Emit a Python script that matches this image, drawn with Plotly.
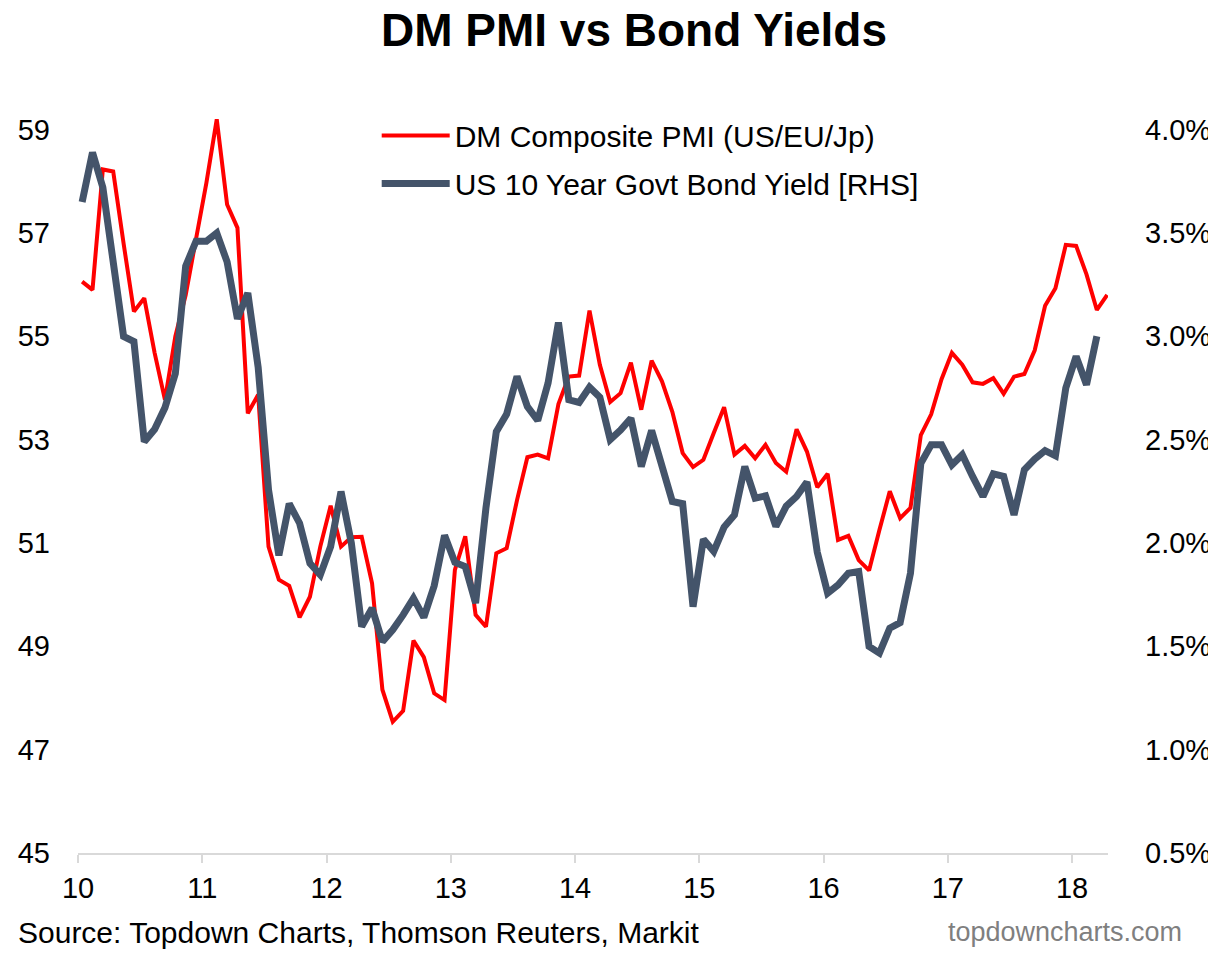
import plotly.graph_objects as go

# Monthly observations (first point early 2010)
pmi = [56.06, 55.90, 58.23, 58.19, 56.80, 55.48, 55.74, 54.68, 53.77, 55.00,
       55.80, 56.87, 57.97, 59.20, 57.55, 57.10, 53.51, 53.87, 50.93, 50.29,
       50.17, 49.56, 49.96, 50.93, 51.72, 50.93, 51.11, 51.12, 50.22, 48.16,
       47.54, 47.75, 49.11, 48.79, 48.09, 47.96, 50.48, 51.13, 49.61, 49.38,
       50.80, 50.90, 51.83, 52.66, 52.71, 52.64, 53.69, 54.22, 54.24, 55.50,
       54.45, 53.73, 53.90, 54.49, 53.58, 54.53, 54.13, 53.54, 52.74, 52.47,
       52.61, 53.13, 53.63, 52.71, 52.88, 52.64, 52.90, 52.55, 52.38, 53.20,
       52.77, 52.08, 52.34, 51.06, 51.14, 50.67, 50.47, 51.25, 52.00, 51.48,
       51.68, 53.09, 53.49, 54.17, 54.68, 54.45, 54.11, 54.08, 54.19, 53.89,
       54.22, 54.27, 54.73, 55.59, 55.93, 56.77, 56.75, 56.20, 55.51, 55.80]

yields = [3.65, 3.89, 3.72, 3.36, 3.00, 2.975, 2.49, 2.55, 2.655, 2.82,
          3.34, 3.46, 3.46, 3.50, 3.36, 3.085, 3.21, 2.85, 2.257, 1.94,
          2.19, 2.096, 1.902, 1.846, 1.983, 2.249, 2.00, 1.596, 1.685, 1.523,
          1.58, 1.652, 1.733, 1.64, 1.793, 2.037, 1.906, 1.886, 1.709, 2.17,
          2.539, 2.624, 2.806, 2.66, 2.593, 2.774, 3.067, 2.693, 2.68, 2.754,
          2.705, 2.50, 2.546, 2.604, 2.37, 2.544, 2.37, 2.201, 2.19, 1.692,
          2.018, 1.959, 2.077, 2.136, 2.37, 2.217, 2.228, 2.08, 2.178, 2.225,
          2.295, 1.955, 1.757, 1.797, 1.854, 1.862, 1.499, 1.467, 1.588, 1.615,
          1.854, 2.386, 2.475, 2.475, 2.378, 2.427, 2.322, 2.225, 2.335, 2.322,
          2.136, 2.354, 2.406, 2.447, 2.422, 2.75, 2.903, 2.766, 3.00]

year_ticks = [10, 11, 12, 13, 14, 15, 16, 17, 18]
year_labels = ["10", "11", "12", "13", "14", "15", "16", "17", "18"]
left_ticks = [45, 47, 49, 51, 53, 55, 57, 59]
right_ticks = [0.5, 1.0, 1.5, 2.0, 2.5, 3.0, 3.5, 4.0]
right_labels = ["0.5%", "1.0%", "1.5%", "2.0%", "2.5%", "3.0%", "3.5%", "4.0%"]

FONT = "Liberation Sans, Arial, sans-serif"

x_pmi = [10 + (i + 0.4) / 12 for i in range(len(pmi))]
x_yld = [10 + (i + 0.4) / 12 for i in range(len(yields))]

# plot area in page pixels (page body adds an 8px offset to the figure)
OFF = 8
FW, FH = 1216 - OFF, 954 - OFF
PL, PR, PT, PB = 78.0, 1108.0, 78.4, 853.0
PW, PH = PR - PL, PB - PT


def px(xp):
    return (xp - PL) / PW


def py(yp):
    return (PB - yp) / PH


fig = go.Figure()
fig.add_trace(go.Scatter(
    x=x_pmi, y=pmi, mode="lines", name="DM Composite PMI (US/EU/Jp)",
    line=dict(color="#FF0000", width=4), legendgroup="a"))
fig.add_trace(go.Scatter(
    x=x_yld, y=yields, mode="lines", name="US 10 Year Govt Bond Yield [RHS]",
    line=dict(color="#44546A", width=7), yaxis="y2", legendgroup="b"))

fig.update_layout(
    width=FW, height=FH,
    margin=dict(l=PL - OFF, r=1216 - PR, t=PT - OFF, b=954 - PB, autoexpand=False),
    paper_bgcolor="white", plot_bgcolor="white",
    font=dict(family=FONT, size=29, color="#000000"),
    title=dict(text="<b>DM PMI vs Bond Yields</b>", xref="container", yref="container",
               x=(634 - OFF) / FW, y=1 - (30 - OFF) / FH, xanchor="center", yanchor="middle",
               font=dict(size=46, color="#000000")),
    showlegend=True,
    legend=dict(x=0.29, y=py(110), xanchor="left", yanchor="top",
                bgcolor="rgba(0,0,0,0)", font=dict(size=30),
                itemwidth=68, tracegroupgap=6),
    xaxis=dict(range=[10, 18 + 36 / 124.25], tickvals=year_ticks, ticktext=year_labels,
               automargin=False,
               showgrid=False, zeroline=False, showline=True, linecolor="#D9D9D9",
               linewidth=2, ticks="outside", ticklen=8, tickwidth=2, tickcolor="#D9D9D9",
               tickfont=dict(size=29)),
    yaxis=dict(range=[45, 60], tickvals=left_ticks, showgrid=False, zeroline=False,
               automargin=False,
               showline=False, ticks="", tickfont=dict(size=29), ticklabelstandoff=27),
    yaxis2=dict(range=[0.5, 4.25], tickvals=right_ticks, ticktext=right_labels,
                overlaying="y", side="right", automargin=False,
                showgrid=False, zeroline=False,
                showline=False, ticks="", tickfont=dict(size=29), ticklabelstandoff=36),
    annotations=[
        dict(text="Source: Topdown Charts, Thomson Reuters, Markit", xref="paper", yref="paper",
             x=px(16), y=py(932), xanchor="left", yanchor="middle",
             showarrow=False, font=dict(size=30, color="#000000")),
        dict(text="topdowncharts.com", xref="paper", yref="paper",
             x=px(1184), y=py(932), xanchor="right", yanchor="middle",
             showarrow=False, font=dict(size=27, color="#7F7F7F")),
    ],
)

fig.write_html("out.html")
